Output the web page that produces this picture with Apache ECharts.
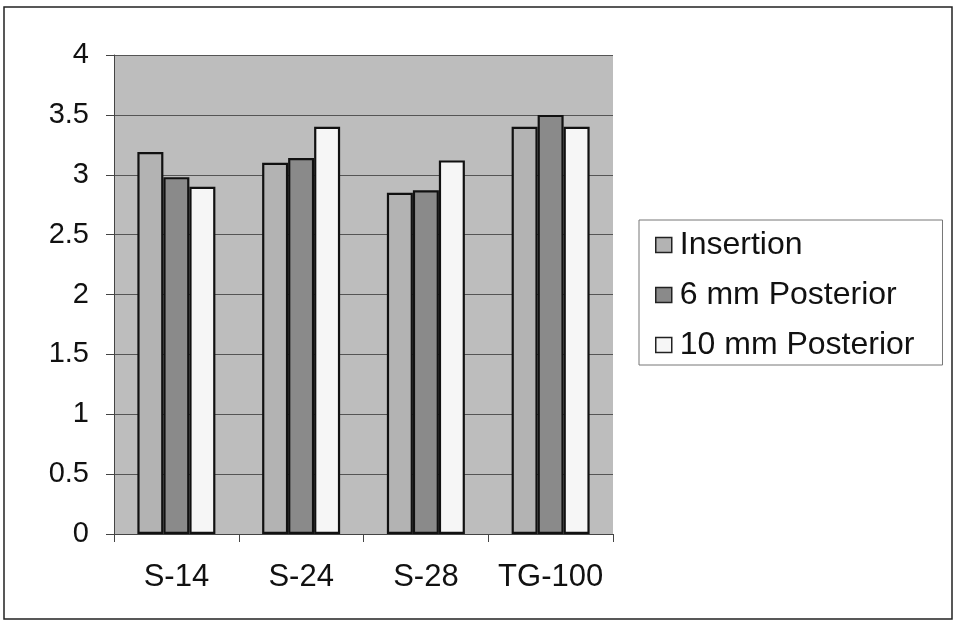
<!DOCTYPE html>
<html>
<head>
<meta charset="utf-8">
<script src="https://cdn.jsdelivr.net/npm/echarts@6/dist/echarts.min.js"></script>
<style>
  html, body { margin: 0; padding: 0; background: #ffffff; }
  #chart { width: 959px; height: 623px; }
</style>
</head>
<body>
<div id="chart"></div>
<script>
// Categories along the x axis
var categories = ['S-14', 'S-24', 'S-28', 'TG-100'];

// Series names and values
var seriesNames = ['Insertion', '6 mm Posterior', '10 mm Posterior'];
var insertion = [3.19, 3.10, 2.85, 3.40];
var posterior6 = [2.98, 3.14, 2.87, 3.50];
var posterior10 = [2.90, 3.40, 3.12, 3.40];

// Value axis ticks
var yMin = 0, yMax = 4, yStep = 0.5;

var fillColors = ['#b3b3b3', '#8a8a8a', '#f6f6f6'];
var seriesData = [insertion, posterior6, posterior10];

var font = '"Liberation Sans", Arial, sans-serif';

var chart = echarts.init(document.getElementById('chart'), null, { renderer: 'canvas' });

var series = seriesNames.map(function (name, i) {
  return {
    name: name,
    type: 'bar',
    data: seriesData[i],
    barWidth: 26,
    barGap: '0%',
    itemStyle: {
      color: fillColors[i],
      borderColor: '#111111',
      borderWidth: 2.2
    },
    emphasis: { disabled: true }
  };
});

chart.setOption({
  animation: false,
  backgroundColor: '#ffffff',
  graphic: [{
    type: 'rect',
    shape: { x: 4, y: 7, width: 948, height: 612 },
    style: { fill: 'none', stroke: '#222222', lineWidth: 1.5 },
    z: -1
  }],
  grid: {
    left: 114,
    right: 346,
    top: 55,
    bottom: 89,
    show: true,
    backgroundColor: '#bdbdbd',
    borderWidth: 0
  },
  legend: {
    orient: 'vertical',
    left: 639,
    top: 220,
    padding: [9, 28, 4, 16],
    itemGap: 18,
    itemWidth: 16,
    itemHeight: 15,
    icon: 'rect',
    backgroundColor: '#ffffff',
    borderColor: '#777777',
    borderWidth: 1,
    textStyle: { fontFamily: font, fontSize: 32, color: '#111111', padding: [0, 0, 0, 3] },
    itemStyle: { borderColor: '#222222', borderWidth: 1.5 },
    data: seriesNames
  },
  xAxis: {
    type: 'category',
    data: categories,
    axisLine: { lineStyle: { color: '#444444', width: 1 } },
    axisTick: { show: true, interval: 0, length: 8, alignWithLabel: false, lineStyle: { color: '#444444' } },
    axisLabel: { interval: 0, fontFamily: font, fontSize: 31, color: '#111111', margin: 28 },
    splitLine: { show: false }
  },
  yAxis: {
    type: 'value',
    min: yMin,
    max: yMax,
    interval: yStep,
    axisLine: { show: true, lineStyle: { color: '#444444', width: 1 } },
    axisTick: { show: true, length: 8, lineStyle: { color: '#444444' } },
    axisLabel: { fontFamily: font, fontSize: 29, color: '#111111', margin: 25 },
    splitLine: { show: true, lineStyle: { color: '#555555', width: 1 } }
  },
  series: series
});
</script>
</body>
</html>
